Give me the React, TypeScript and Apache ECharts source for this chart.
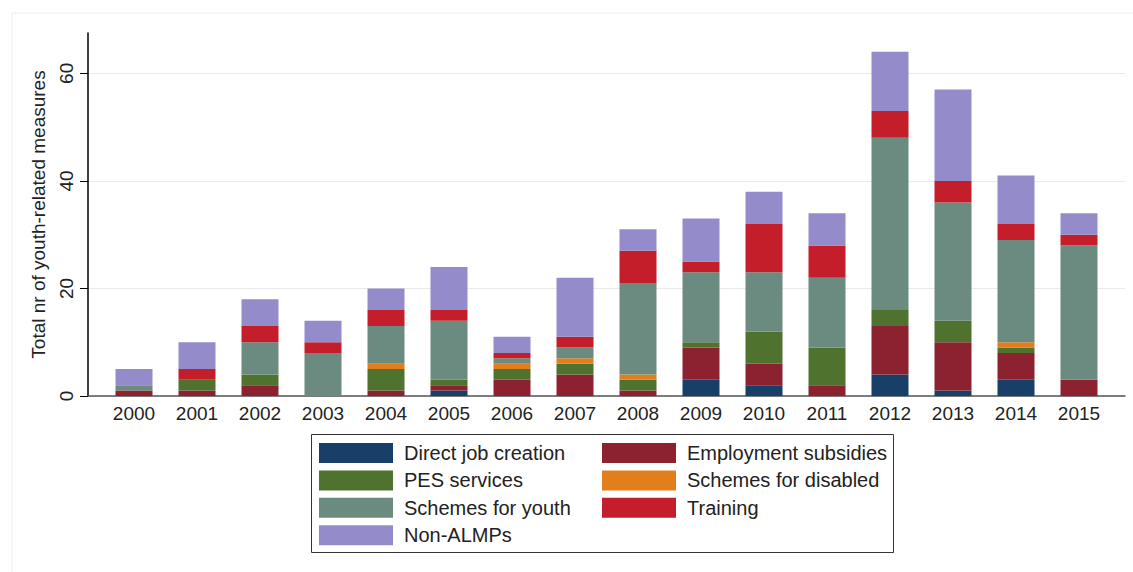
import React, { useEffect, useRef } from "react";
import * as echarts from "echarts";

const years = ["2000", "2001", "2002", "2003", "2004", "2005", "2006", "2007", "2008", "2009", "2010", "2011", "2012", "2013", "2014", "2015"];
const directJobCreation = [0, 0, 0, 0, 0, 1, 0, 0, 0, 3, 2, 0, 4, 1, 3, 0];
const employmentSubsidies = [1, 1, 2, 0, 1, 1, 3, 4, 1, 6, 4, 2, 9, 9, 5, 3];
const pesServices = [0, 2, 2, 0, 4, 1, 2, 2, 2, 1, 6, 7, 3, 4, 1, 0];
const schemesForDisabled = [0, 0, 0, 0, 1, 0, 1, 1, 1, 0, 0, 0, 0, 0, 1, 0];
const schemesForYouth = [1, 0, 6, 8, 7, 11, 1, 2, 17, 13, 11, 13, 32, 22, 19, 25];
const training = [0, 2, 3, 2, 3, 2, 1, 2, 6, 2, 9, 6, 5, 4, 3, 2];
const nonAlmps = [3, 5, 5, 4, 4, 8, 3, 11, 4, 8, 6, 6, 11, 17, 9, 4];
const yTicks = [0, 20, 40, 60];
const yMax = 67.5;

const seriesDefs = [
  { name: "Direct job creation", data: directJobCreation, color: "#173f68" },
  { name: "Employment subsidies", data: employmentSubsidies, color: "#8c2230" },
  { name: "PES services", data: pesServices, color: "#50722f" },
  { name: "Schemes for disabled", data: schemesForDisabled, color: "#e37e1c" },
  { name: "Schemes for youth", data: schemesForYouth, color: "#6b8b80" },
  { name: "Training", data: training, color: "#c41e2a" },
  { name: "Non-ALMPs", data: nonAlmps, color: "#938bca" },
];
const legendCol1 = ["Direct job creation", "PES services", "Schemes for youth", "Non-ALMPs"];
const legendCol2 = ["Employment subsidies", "Schemes for disabled", "Training"];

const FONT = "'Liberation Sans', Arial, sans-serif";

const legendBase = {
  orient: "vertical",
  top: 443,
  padding: 0,
  itemWidth: 74,
  itemHeight: 20,
  itemGap: 7.4,
  icon: "rect",
  selectedMode: false,
  textStyle: {
    fontSize: 20,
    lineHeight: 20,
    color: "#222",
    fontFamily: FONT,
    padding: [0, 0, 0, 6],
  },
};

export default function App() {
  const ref = useRef<HTMLDivElement>(null);
  useEffect(() => {
    document.body.style.margin = "0";
    const chart = echarts.init(ref.current!, null, { renderer: "svg" });
    const firstYear = Number(years[0]);
    const lastYear = Number(years[years.length - 1]);
    chart.setOption({
      animation: false,
      backgroundColor: "#ffffff",
      textStyle: { fontFamily: FONT },
      grid: [
        { left: 88, right: 8, top: 33, bottom: 176 },
        { left: 102.5, right: 22.5, top: 33, bottom: 176 },
      ],
      graphic: [
        {
          type: "rect",
          shape: { x: 12, y: 13, width: 1140, height: 580 },
          style: { fill: "none", stroke: "#ececec", lineWidth: 1 },
          silent: true,
        },
        {
          type: "rect",
          shape: { x: 311.5, y: 434.5, width: 582, height: 118 },
          style: { fill: "none", stroke: "#333", lineWidth: 1 },
          silent: true,
        },
      ],
      legend: [
        { ...legendBase, left: 319, data: legendCol1 },
        { ...legendBase, left: 602, data: legendCol2 },
      ],
      xAxis: [
        {
          type: "value",
          gridIndex: 0,
          min: firstYear - 0.73,
          max: lastYear + 0.73,
          splitLine: { show: false },
          axisLine: { show: true, lineStyle: { color: "#555", width: 1.5 } },
          axisTick: { show: false },
          axisLabel: {
            customValues: years.map(Number),
            formatter: (v: number) => String(Math.round(v)),
            fontSize: 19,
            color: "#222",
            margin: 8,
            fontFamily: FONT,
          },
        },
        {
          type: "category",
          gridIndex: 1,
          data: years,
          show: false,
        },
      ],
      yAxis: [
        {
          type: "value",
          gridIndex: 0,
          min: 0,
          max: yMax,
          name: "Total nr of youth-related measures",
          nameLocation: "middle",
          nameGap: 40,
          nameRotate: 90,
          nameTextStyle: { fontSize: 19, color: "#222", fontFamily: FONT },
          axisLine: { show: true, lineStyle: { color: "#000", width: 1.5 } },
          axisTick: { show: true, length: 8, customValues: yTicks, lineStyle: { color: "#000" } },
          axisLabel: {
            customValues: yTicks,
            rotate: 90,
            fontSize: 19,
            color: "#222",
            margin: 12,
            fontFamily: FONT,
          },
          splitLine: { show: true, lineStyle: { color: "#eaeaea", width: 1 } },
        },
        {
          type: "value",
          gridIndex: 1,
          min: 0,
          max: yMax,
          show: false,
          splitLine: { show: false },
        },
      ],
      series: seriesDefs.map((s) => ({
        name: s.name,
        type: "bar",
        stack: "total",
        xAxisIndex: 1,
        yAxisIndex: 1,
        barWidth: 37,
        itemStyle: { color: s.color },
        data: s.data,
      })),
    });
    return () => chart.dispose();
  }, []);
  return <div ref={ref} style={{ width: 1133, height: 572 }} />;
}
